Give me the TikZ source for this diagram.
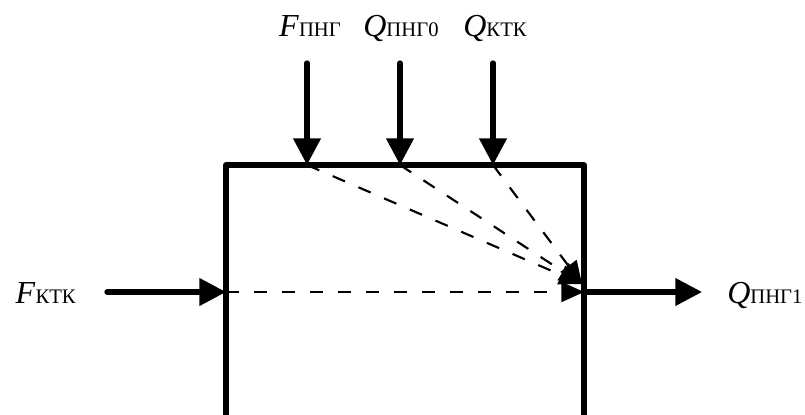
\documentclass[tikz,border=0pt]{standalone}
\usepackage{fontspec}
\setmainfont{Liberation Serif}
\usetikzlibrary{arrows.meta}
\newcommand{\idx}[1]{\raisebox{-0.5pt}{\fontsize{15.5}{15.5}\selectfont #1}}

\begin{document}
\begin{tikzpicture}[x=0.75pt, y=-0.75pt,
    flow/.style={line width=4pt, line cap=round, -{Triangle[length=20pt, width=20pt]}},
    link/.style={line width=1.6pt, dash pattern=on 10pt off 11pt, -{Triangle[length=17pt, width=15pt]}},
    lbl/.style={font=\fontsize{24}{28}\selectfont, inner sep=0pt}]
    \useasboundingbox (0,0) rectangle (805,414);

    % Apparatus (open at the bottom)
    \coordinate (tl) at (226,165);
    \coordinate (tr) at (584,165);
    \draw[line width=4pt, line join=round] (226,430) -- (tl) -- (tr) -- (584,430);

    % Inlets on top
    \node[lbl, anchor=base] (fpng) at (310,36) {\textit{F}\idx{ПНГ}};
    \node[lbl, anchor=base] (qpng0) at (401,36) {\textit{Q}\idx{ПНГ0}};
    \node[lbl, anchor=base] (qktk) at (495,36) {\textit{Q}\idx{КТК}};
    \coordinate (s1) at (307,63);
    \coordinate (s2) at (400,63);
    \coordinate (s3) at (493,63);
    \coordinate (in1) at (307,165);
    \coordinate (in2) at (400,165);
    \coordinate (in3) at (493,165);
    \draw[flow] (s1) -- (in1);
    \draw[flow] (s2) -- (in2);
    \draw[flow] (s3) -- (in3);

    % Side inlet and outlet
    \node[lbl, anchor=base east] (fktk) at (76,303) {\textit{F}\idx{КТК}};
    \coordinate (s4) at (107,292);
    \coordinate (in4) at (226,292);
    \coordinate (out) at (584,292);
    \coordinate (s5) at (702,292);
    \node[lbl, anchor=base west] (qpng1) at (727,303) {\textit{Q}\idx{ПНГ1}};
    \draw[flow] (s4) -- (in4);
    \draw[flow] (out) -- (s5);

    % Links inside
    \coordinate (conv) at (582,284);
    \draw[link] (in1) -- (conv);
    \draw[link] (in2) -- (conv);
    \draw[link] (in3) -- (conv);
    \draw[link] (in4) -- (out);
\end{tikzpicture}
\end{document}
